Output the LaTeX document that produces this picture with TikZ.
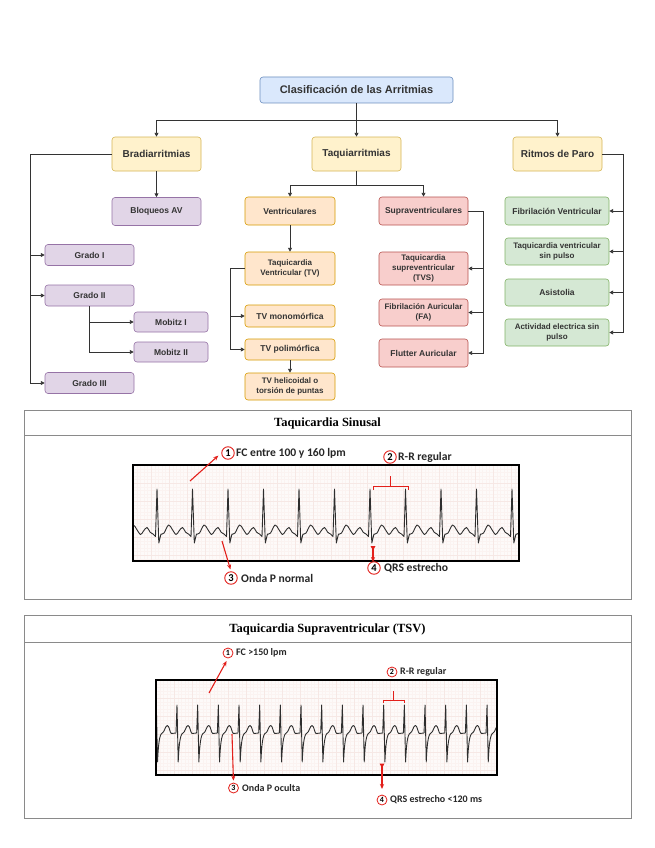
\documentclass[tikz,border=0pt]{standalone}
\usepackage{fontspec}
\setmainfont{Liberation Sans}
\newfontfamily\timesf{Liberation Serif}
\newfontfamily\calf{Carlito}
\usetikzlibrary{arrows.meta,calc}
\definecolor{txt}{HTML}{333333}
\definecolor{bluef}{HTML}{DAE8FC}\definecolor{blued}{HTML}{6C8EBF}
\definecolor{yelf}{HTML}{FFF2CC}\definecolor{yeld}{HTML}{D6B656}
\definecolor{purf}{HTML}{E1D5E7}\definecolor{purd}{HTML}{9673A6}
\definecolor{oraf}{HTML}{FFE6CC}\definecolor{orad}{HTML}{D79B00}
\definecolor{redf}{HTML}{F8CECC}\definecolor{redd}{HTML}{B85450}
\definecolor{grnf}{HTML}{D5E8D4}\definecolor{grnd}{HTML}{82B366}
\definecolor{redc}{HTML}{E3201B}
\definecolor{gridbg}{HTML}{FDFAF9}
\definecolor{gridmin}{HTML}{FBF3F1}
\definecolor{gridmaj}{HTML}{F6E8E5}
\definecolor{panelc}{HTML}{8A8A8A}
\begin{document}
\begin{tikzpicture}[x=1pt,y=-1pt,
  box/.style={rounded corners=3pt, line width=0.6pt, align=center, text=txt, inner sep=1pt,
    font=\bfseries\fontsize{8.5}{9.8}\selectfont},
  big/.style={font=\bfseries\fontsize{10}{12}\selectfont},
  bluebox/.style={box, fill=bluef, draw=blued},
  yelbox/.style={box, fill=yelf, draw=yeld},
  purbox/.style={box, fill=purf, draw=purd},
  orabox/.style={box, fill=oraf, draw=orad},
  redbox/.style={box, fill=redf, draw=redd},
  grnbox/.style={box, fill=grnf, draw=grnd},
  conn/.style={draw=txt, line width=0.8pt, -{Triangle[length=3.8pt,width=3.8pt]}},
  panel/.style={draw=panelc, line width=0.8pt},
  gmin/.style={draw=gridmin, line width=0.2pt},
  gmaj/.style={draw=gridmaj, line width=0.35pt},
  ecg/.style={draw=black!82, line width=0.9pt, line join=round},
  redarr/.style={draw=redc, line width=1.1pt, -{Stealth[length=5pt,width=4.2pt]}},
  redline/.style={draw=redc, line width=1pt},
  redtip/.style={fill=redc},
  numA/.style={circle, draw=redc, line width=0.9pt, inner sep=0pt, minimum size=12.5pt, text=black,
    font=\calf\bfseries\fontsize{10.5}{10.5}\selectfont},
  numB/.style={circle, draw=redc, line width=0.8pt, inner sep=0pt, minimum size=10pt, text=black,
    font=\calf\bfseries\fontsize{8}{8}\selectfont},
  annA/.style={anchor=west, inner sep=0pt, text=black!85, font=\calf\bfseries\fontsize{11.6}{12}\selectfont},
  annB/.style={anchor=west, inner sep=0pt, text=black!85, font=\calf\bfseries\fontsize{10}{11}\selectfont},
  ttl/.style={inner sep=0pt, font=\timesf\bfseries\fontsize{12.5}{14}\selectfont}
]
\useasboundingbox (0,0) rectangle (655,848);
\fill[white] (0,0) rectangle (655,848);

% ---------------- tree ----------------
\node[bluebox, minimum width=193pt, minimum height=26pt, font=\bfseries\fontsize{11}{12}\selectfont] (top) at (356.5,90) {Clasificación de las Arritmias};
\node[yelbox, big, minimum width=89pt, minimum height=34pt] (bradi) at (156.5,154) {Bradiarritmias};
\node[yelbox, big, minimum width=89pt, minimum height=34pt] (taqui) at (356.5,154) {Taquiarritmias};
\node[yelbox, big, minimum width=89pt, minimum height=34pt] (paro) at (557.5,154) {Ritmos de Paro};

\node[purbox, minimum width=89pt, minimum height=28pt] (bloq) at (156.5,211.5) {Bloqueos AV};
\node[purbox, minimum width=89pt, minimum height=21pt] (g1) at (89.5,255) {Grado I};
\node[purbox, minimum width=89pt, minimum height=21pt] (g2) at (89.5,295.5) {Grado II};
\node[purbox, minimum width=89pt, minimum height=21pt] (g3) at (89.5,383) {Grado III};
\node[purbox, minimum width=74pt, minimum height=20pt] (m1) at (171,322) {Mobitz I};
\node[purbox, minimum width=74pt, minimum height=20pt] (m2) at (171,352) {Mobitz II};

\node[orabox, minimum width=90pt, minimum height=28pt] (vent) at (290,211) {Ventriculares};
\node[orabox, minimum width=90pt, minimum height=33pt, font=\bfseries\fontsize{8}{9.6}\selectfont] (tv) at (290,268.5) {Taquicardia\\Ventricular (TV)};
\node[orabox, minimum width=90pt, minimum height=22pt] (mono) at (290,316) {TV monomórfica};
\node[orabox, minimum width=90pt, minimum height=21pt] (poli) at (290,349.5) {TV polimórfica};
\node[orabox, minimum width=90pt, minimum height=27pt, font=\bfseries\fontsize{8}{9.6}\selectfont] (heli) at (290,386.5) {TV helicoidal o\\torsión de puntas};

\node[redbox, minimum width=89pt, minimum height=28pt] (supra) at (423.5,211) {Supraventriculares};
\node[redbox, minimum width=89pt, minimum height=33pt, font=\bfseries\fontsize{8}{9.6}\selectfont] (tvs) at (423.5,268.5) {Taquicardia\\supreventricular\\(TVS)};
\node[redbox, minimum width=89pt, minimum height=27pt, font=\bfseries\fontsize{8}{9.6}\selectfont] (fa) at (423.5,312.5) {Fibrilación Auricular\\(FA)};
\node[redbox, minimum width=89pt, minimum height=28pt] (flut) at (423.5,353) {Flutter Auricular};

\node[grnbox, minimum width=104pt, minimum height=28pt] (fv) at (557,211) {Fibrilación Ventricular};
\node[grnbox, minimum width=104pt, minimum height=27pt, font=\bfseries\fontsize{8}{9.6}\selectfont] (tvsp) at (557,251.5) {Taquicardia ventricular\\sin pulso};
\node[grnbox, minimum width=104pt, minimum height=27pt] (asis) at (557,292.5) {Asistolia};
\node[grnbox, minimum width=104pt, minimum height=27pt, font=\bfseries\fontsize{8}{9.6}\selectfont] (aesp) at (557,332.5) {Actividad electrica sin\\pulso};

% connectors
\draw[conn] (top.south) -- (taqui.north);
\draw[conn] (top.south) -- ++(0,17) -| (bradi.north);
\draw[conn] (top.south) -- ++(0,17) -| (paro.north);

\draw[conn] (bradi.south) -- (bloq.north);
\draw[conn] (bradi.west) -| ([xshift=-14pt]g3.west) -- (g3.west);
\draw[conn] ([xshift=-14pt]g1.west) -- (g1.west);
\draw[conn] ([xshift=-14pt]g2.west) -- (g2.west);
\draw[conn] (g2.south) |- (m2.west);
\draw[conn] (g2.south) |- (m1.west);

\draw[conn] (taqui.south) -- ++(0,14) -| (vent.north);
\draw[conn] (taqui.south) -- ++(0,14) -| (supra.north);
\draw[conn] (vent.south) -- (tv.north);
\draw[conn] (tv.west) -| ([xshift=-14pt]poli.west) -- (poli.west);
\draw[conn] ([xshift=-14pt]mono.west) -- (mono.west);
\draw[conn] (poli.south) -- (heli.north);

\draw[conn] (supra.east) -| ([xshift=15pt]flut.east) -- (flut.east);
\draw[conn] ([xshift=15pt]tvs.east) -- (tvs.east);
\draw[conn] ([xshift=15pt]fa.east) -- (fa.east);

\draw[conn] (paro.east) -| ([xshift=14pt]aesp.east) -- (aesp.east);
\draw[conn] ([xshift=14pt]fv.east) -- (fv.east);
\draw[conn] ([xshift=14pt]tvsp.east) -- (tvsp.east);
\draw[conn] ([xshift=14pt]asis.east) -- (asis.east);

% ---------------- panel 1 ----------------
\draw[panel] (24,410) rectangle (631,599);
\draw[panel] (24,435) -- (631,435);
\node[ttl] (t1) at (327.5,423) {Taquicardia Sinusal};

\begin{scope}
\clip (133,465) rectangle (519,561);
\fill[gridbg] (133,465) rectangle (519,561);
\foreach \i in {0,...,108} {\draw[gmin] (133+3.6*\i,465) -- ++(0,96);}
\foreach \j in {0,...,27} {\draw[gmin] (133,465+3.6*\j) -- ++(386,0);}
\foreach \i in {0,...,21} {\draw[gmaj] (133+18*\i,465) -- ++(0,96);}
\foreach \j in {0,...,5} {\draw[gmaj] (133,465+18*\j) -- ++(386,0);}
\foreach \k in {-1,...,11} {
  \pgfmathsetmacro\xk{157+35.5*\k}
  \draw[ecg] (\xk-4,534) -- (\xk-1.5,536.5) -- (\xk,489) -- (\xk+1.8,543) -- (\xk+4,534)
    -- plot[smooth,tension=0.6] coordinates {(\xk+4,534) (\xk+7,533) (\xk+11.5,525) (\xk+15,529) (\xk+19,534.5) (\xk+22,531) (\xk+25.5,527.5) (\xk+28.5,532) (\xk+31.5,534)};
}
\end{scope}
\draw[line width=1.7pt] (133,465) rectangle (519,561);

\node[numA] (a1) at (228,453) {1};
\node[annA] (l1) at (236,453) {FC entre 100 y 160 lpm};
\coordinate (s1) at (190,481);
\draw[redarr, shorten >=4pt] (s1) -- (a1.west);

\node[numA] (a2) at (390,457) {2};
\node[annA] (l2) at (398,457) {R-R regular};
\draw[redline] (373,489.5) -- (373,486) -- (408,486) -- (408,489.5);
\draw[redline] (390.5,486) -- (390.5,476);

\node[numA] (a3) at (231,578) {3};
\node[annA] (l3) at (241,578) {Onda P normal};
\coordinate (s3) at (222,541);
\draw[redarr, shorten >=2pt] (s3) -- (a3.north);

\node[numA] (a4) at (374,568) {4};
\node[annA] (l4) at (384,568) {QRS estrecho};
\coordinate (s4) at (373,547);
\coordinate (e4) at (373,562);
\draw[redarr, line width=1.2pt] (s4) -- (e4);
\fill[redtip] (370.5,546) -- (375.5,546) -- (373,550.5) -- cycle;

% ---------------- panel 2 ----------------
\draw[panel] (24,615) rectangle (631,818);
\draw[panel] (24,642) -- (631,642);
\node[ttl] (t2) at (327.5,629) {Taquicardia Supraventricular (TSV)};

\begin{scope}
\clip (156,680) rectangle (497,775);
\fill[gridbg] (156,680) rectangle (497,775);
\foreach \i in {0,...,95} {\draw[gmin] (156+3.6*\i,680) -- ++(0,95);}
\foreach \j in {0,...,27} {\draw[gmin] (156,680+3.6*\j) -- ++(341,0);}
\foreach \i in {0,...,19} {\draw[gmaj] (156+18*\i,680) -- ++(0,95);}
\foreach \j in {0,...,5} {\draw[gmaj] (156,680+18*\j) -- ++(341,0);}
\foreach \k in {-1,...,16} {
  \pgfmathsetmacro\xk{177+20.67*\k}
  \draw[ecg] (\xk-1,733) -- (\xk,705) -- (\xk+1.2,762)
    .. controls (\xk+2,745) and (\xk+3,734) .. (\xk+6,733)
    .. controls (\xk+8,732.5) and (\xk+9,725.5) .. (\xk+11,725.5)
    .. controls (\xk+13,725.5) and (\xk+13.5,733) .. (\xk+15,733.5) -- (\xk+19.67,733);
}
\end{scope}
\draw[line width=1.7pt] (156,680) rectangle (497,775);

\node[numB] (b1) at (228,653) {1};
\node[annB] (k1) at (236,653) {FC >150 lpm};
\coordinate (r1) at (209,693);
\draw[redarr, shorten >=3pt] (r1) -- (b1.south);

\node[numB] (b2) at (392,672) {2};
\node[annB] (k2) at (400,672) {R-R regular};
\draw[redline] (383,703) -- (383,700) -- (404,700) -- (404,703);
\draw[redline] (393.5,700) -- (393.5,691);

\node[numB] (b3) at (233.5,788) {3};
\node[annB] (k3) at (242,788) {Onda P oculta};
\coordinate (r3) at (232,734);
\draw[redarr, shorten >=2pt] (r3) -- (b3.north);

\node[numB] (b4) at (382,800) {4};
\node[annB] (k4) at (390,800) {QRS estrecho <120 ms};
\coordinate (r4) at (382,764);
\coordinate (e4b) at (382,789);
\draw[redarr, line width=1.3pt] (r4) -- (e4b);
\fill[redtip] (379.5,763.5) -- (384.5,763.5) -- (382,768) -- cycle;
\end{tikzpicture}
\end{document}
